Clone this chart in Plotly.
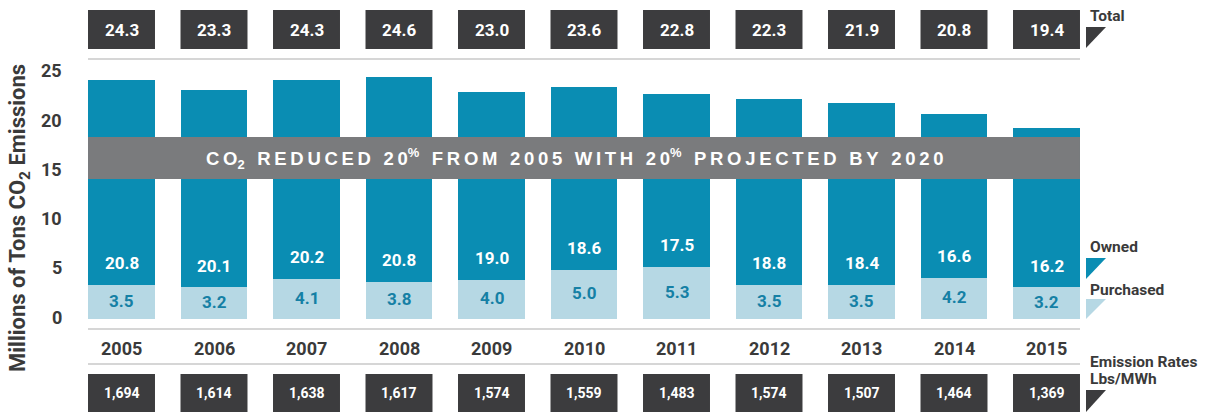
import plotly.graph_objects as go

# ---- data -------------------------------------------------------------
years = [2005, 2006, 2007, 2008, 2009, 2010, 2011, 2012, 2013, 2014, 2015]
owned = [20.8, 20.1, 20.2, 20.8, 19.0, 18.6, 17.5, 18.8, 18.4, 16.6, 16.2]
purchased = [3.5, 3.2, 4.1, 3.8, 4.0, 5.0, 5.3, 3.5, 3.5, 4.2, 3.2]
totals = [24.3, 23.3, 24.3, 24.6, 23.0, 23.6, 22.8, 22.3, 21.9, 20.8, 19.4]
emission_rates = ["1,694", "1,614", "1,638", "1,617", "1,574", "1,559",
                  "1,483", "1,574", "1,507", "1,464", "1,369"]
y_ticks = [0, 5, 10, 15, 20, 25]

# ---- styling ----------------------------------------------------------
W, H = 1219, 417
TEAL = "#0a8db3"
LIGHT = "#b6d8e4"
DARK_BOX = "#3c3c3e"
BANNER = "#7a7b7d"
TEXT = "#3a3a3a"
RULE = "#d6d6d6"
FONT = "Roboto, Liberation Sans, sans-serif"
WIDE = "Liberation Sans, Arial, sans-serif"

BAR_W = 0.724
x_lo, x_hi = years[0] - BAR_W / 2, years[-1] + BAR_W / 2


def py(p):
    """Convert a pixel row (from top) to paper y."""
    return 1 - p / H


def px(p):
    """Convert a pixel column to paper x."""
    return p / W


fig = go.Figure()
fig.add_bar(x=years, y=purchased, name="Purchased", marker_color=LIGHT,
            width=BAR_W, marker_line_width=0, hoverinfo="skip")
fig.add_bar(x=years, y=owned, name="Owned", marker_color=TEAL,
            width=BAR_W, marker_line_width=0, hoverinfo="skip")

shapes = []
ann = []


def label(**kw):
    kw.setdefault("showarrow", False)
    kw.setdefault("xanchor", "center")
    kw.setdefault("yanchor", "middle")
    ann.append(kw)


# horizontal rules
for p in (59, 329, 364):
    shapes.append(dict(type="line", xref="x", yref="paper", x0=x_lo, x1=x_hi,
                       y0=py(p), y1=py(p), line=dict(color=RULE, width=2)))

for i, yr in enumerate(years):
    # total boxes
    shapes.append(dict(type="rect", xref="x", yref="paper",
                       x0=yr - BAR_W / 2, x1=yr + BAR_W / 2,
                       y0=py(49), y1=py(10), fillcolor=DARK_BOX, line_width=0))
    label(x=yr, y=py(29.5), xref="x", yref="paper",
          text=f"<b>{totals[i]:.1f}</b>",
          font=dict(family=FONT, size=17, color="white"))
    # emission-rate boxes
    shapes.append(dict(type="rect", xref="x", yref="paper",
                       x0=yr - BAR_W / 2, x1=yr + BAR_W / 2,
                       y0=py(412), y1=py(374), fillcolor=DARK_BOX, line_width=0))
    label(x=yr, y=py(393), xref="x", yref="paper",
          text=f"<b>{emission_rates[i]}</b>",
          font=dict(family=FONT, size=14, color="white"))
    # year labels
    label(x=yr, y=py(348), xref="x", yref="paper", text=f"<b>{yr}</b>",
          font=dict(family=FONT, size=18, color=TEXT))
    # segment labels
    label(x=yr, y=purchased[i] / 2, xref="x", yref="y", yshift=1,
          text=f"<b>{purchased[i]:.1f}</b>",
          font=dict(family=FONT, size=17, color="#1580a5"))
    label(x=yr, y=purchased[i] + 2.2, xref="x", yref="y",
          text=f"<b>{owned[i]:.1f}</b>",
          font=dict(family=FONT, size=17, color="white"))

# banner across the bars
shapes.append(dict(type="rect", xref="x", yref="paper", x0=x_lo, x1=x_hi,
                   y0=py(179), y1=py(137), fillcolor=BANNER, line_width=0,
                   layer="above"))


def track(s):
    return "\u2009".join(s)


gap = "\u2009 \u2009"
banner_text = (
    "<b>" + track("CO") + "<sub>2</sub>" + gap + track("REDUCED") + gap
    + track("20") + "<sup>%</sup>" + gap + track("FROM") + gap + track("2005")
    + gap + track("WITH") + gap + track("20") + "<sup>%</sup>" + gap
    + track("PROJECTED") + gap + track("BY") + gap + track("2020") + "</b>"
)
label(x=px(575), y=py(158), xref="paper", yref="paper",
      text=banner_text, font=dict(family=WIDE, size=18.5, color="white"))

# y tick labels
for t in y_ticks:
    label(x=px(64), y=t, xref="paper", yref="y", xanchor="right", yshift=2,
          text=f"<b>{t}</b>", font=dict(family=FONT, size=18, color=TEXT))

# y axis title
label(x=px(19), y=py(218), xref="paper", yref="paper", textangle=-90,
      text="<b>Millions of Tons CO<sub>2</sub> Emissions</b>",
      font=dict(family=FONT, size=22, color=TEXT))

# right-hand legend labels with corner markers
legend_items = [
    (["Total"], 16, 27, 48, DARK_BOX),
    (["Owned"], 247, 258, 279, TEAL),
    (["Purchased"], 290, 299, 319, LIGHT),
    (["Emission Rates", "Lbs/MWh"], 362, 390, 412, DARK_BOX),
]
for lines, ty, t0, t1, col in legend_items:
    for k, line in enumerate(lines):
        label(x=px(1088), y=py(ty + 17 * k), xref="paper", yref="paper",
              xanchor="left", text=f"<b>{line}</b>",
              font=dict(family=FONT, size=15.5, color=TEXT))
    shapes.append(dict(type="path", xref="paper", yref="paper", line_width=0,
                       fillcolor=col,
                       path=f"M {px(1086)},{py(t0)} L {px(1106)},{py(t0)} "
                            f"L {px(1086)},{py(t1)} Z"))

fig.update_layout(
    width=W, height=H,
    margin=dict(l=0, r=0, t=0, b=0),
    paper_bgcolor="white", plot_bgcolor="white",
    barmode="stack", showlegend=False,
    xaxis=dict(range=[years[0] - 121.5 / 92.5, years[0] + (W - 121.5) / 92.5],
               visible=False, fixedrange=True),
    yaxis=dict(range=[-98 / 9.85, 319 / 9.85], visible=False, fixedrange=True),
    shapes=shapes, annotations=ann,
)

fig.write_html("out.html", config={"displayModeBar": False})
